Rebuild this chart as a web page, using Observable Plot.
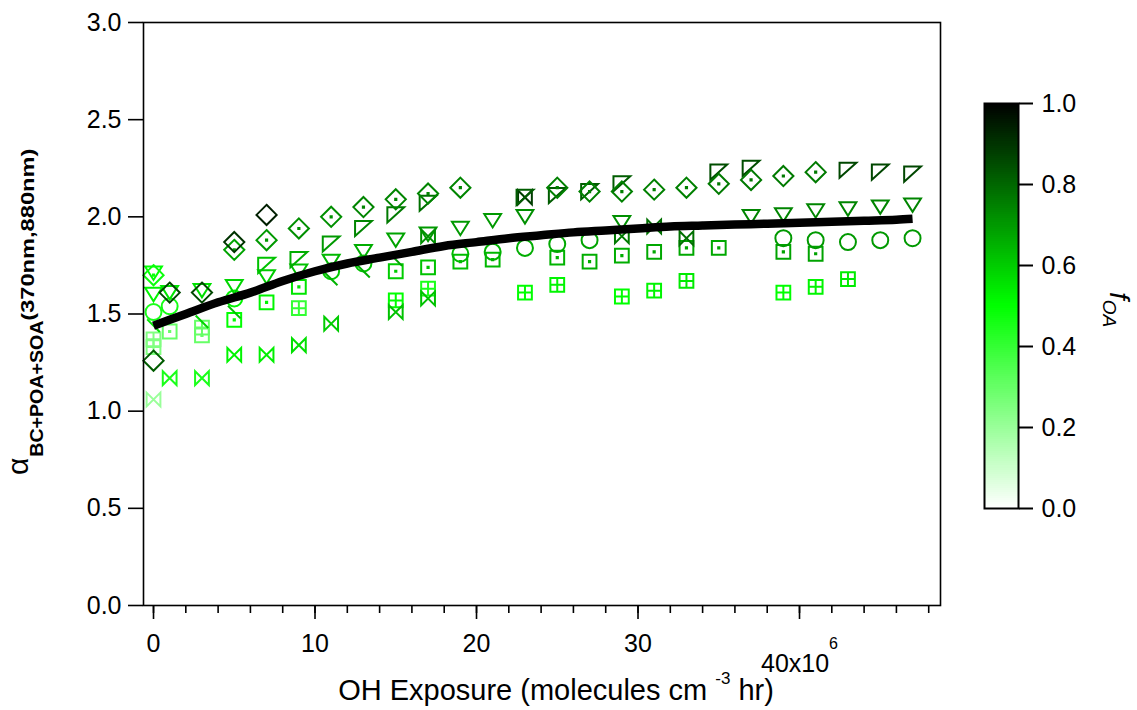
<!DOCTYPE html>
<html><head><meta charset="utf-8">
<script src="https://cdn.jsdelivr.net/npm/d3@7"></script>
<script src="https://cdn.jsdelivr.net/npm/@observablehq/plot@0.6"></script>
<style>
html,body{margin:0;padding:0;background:#fff;}
#wrap{position:relative;width:1137px;height:710px;overflow:hidden;background:#fff;}
#wrap svg{position:absolute;}
</style></head><body><div id="wrap"></div>
<script>
const FONT = "'Liberation Sans', Arial, Helvetica, sans-serif";

// ---- data (x in units of 1e6 molecules cm^-3 hr) ----
const plainDiamondX = [0, 1, 3, 5, 7];
const plainDiamondY = [1.26, 1.61, 1.61, 1.87, 2.01];
const plainDiamondF = [0.82, 0.86, 0.86, 0.9, 0.94];

const dotDiamondX = [0, 5, 7, 9, 11, 13, 15, 17, 19, 25, 27, 29, 31, 33, 35, 37, 39, 41];
const dotDiamondY = [1.70, 1.83, 1.88, 1.94, 2.00, 2.05, 2.09, 2.12, 2.15, 2.15, 2.13, 2.13, 2.14, 2.15, 2.17, 2.19, 2.21, 2.23];
const dotDiamondF = [0.48, 0.68, 0.7, 0.72, 0.72, 0.74, 0.74, 0.74, 0.74, 0.75, 0.75, 0.75, 0.75, 0.75, 0.76, 0.76, 0.76, 0.76];

const flagX = [7, 9, 11, 13, 15, 17, 23, 25, 27, 29, 35, 37, 43, 45, 47];
const flagY = [1.75, 1.78, 1.86, 1.94, 2.01, 2.07, 2.10, 2.11, 2.13, 2.17, 2.23, 2.25, 2.24, 2.23, 2.22];
const flagF = [0.62, 0.66, 0.7, 0.74, 0.76, 0.78, 0.82, 0.82, 0.82, 0.82, 0.85, 0.85, 0.86, 0.86, 0.86];

const triangleX = [0, 0, 1, 3, 5, 7, 9, 11, 13, 15, 17, 19, 21, 23, 29, 37, 39, 41, 43, 45, 47];
const triangleY = [1.71, 1.60, 1.61, 1.62, 1.64, 1.69, 1.72, 1.77, 1.82, 1.88, 1.91, 1.94, 1.98, 2.00, 1.97, 2.00, 2.01, 2.03, 2.04, 2.05, 2.06];
const triangleF = [0.5, 0.52, 0.55, 0.56, 0.58, 0.6, 0.62, 0.64, 0.66, 0.68, 0.7, 0.7, 0.7, 0.72, 0.72, 0.74, 0.74, 0.74, 0.74, 0.74, 0.74];

const circleX = [0, 1, 5, 11, 13, 19, 21, 23, 25, 27, 39, 41, 43, 45, 47];
const circleY = [1.51, 1.54, 1.58, 1.72, 1.76, 1.81, 1.82, 1.84, 1.86, 1.88, 1.89, 1.88, 1.87, 1.88, 1.89];
const circleF = [0.45, 0.46, 0.52, 0.6, 0.62, 0.64, 0.65, 0.66, 0.67, 0.68, 0.7, 0.7, 0.7, 0.7, 0.7];

const dotSquareX = [1, 3, 5, 7, 9, 15, 17, 19, 21, 25, 27, 29, 31, 33, 35, 39, 41];
const dotSquareY = [1.41, 1.39, 1.47, 1.56, 1.64, 1.72, 1.74, 1.77, 1.78, 1.79, 1.77, 1.80, 1.82, 1.84, 1.84, 1.82, 1.81];
const dotSquareF = [0.3, 0.3, 0.5, 0.52, 0.55, 0.6, 0.62, 0.63, 0.64, 0.65, 0.66, 0.66, 0.67, 0.67, 0.67, 0.68, 0.68];

const gridSquareX = [0, 0, 3, 9, 15, 17, 23, 25, 29, 31, 33, 39, 41, 43];
const gridSquareY = [1.37, 1.33, 1.43, 1.53, 1.57, 1.63, 1.61, 1.65, 1.59, 1.62, 1.67, 1.61, 1.64, 1.68];
const gridSquareF = [0.25, 0.25, 0.3, 0.4, 0.5, 0.45, 0.5, 0.52, 0.5, 0.52, 0.54, 0.5, 0.52, 0.54];

const bowtieX = [0, 1, 3, 5, 7, 9, 11, 15, 17];
const bowtieY = [1.06, 1.17, 1.17, 1.29, 1.29, 1.34, 1.45, 1.51, 1.58];
const bowtieF = [0.2, 0.45, 0.45, 0.52, 0.53, 0.56, 0.6, 0.62, 0.62];

const darkBowtieX = [17, 23, 29, 31, 33];
const darkBowtieY = [1.90, 2.10, 1.90, 1.95, 1.89];
const darkBowtieF = [0.72, 0.88, 0.76, 0.78, 0.78];

const slashX = [0, 3, 5, 11, 13, 15];
const slashY = [1.44, 1.46, 1.51, 1.68, 1.72, 1.78];
const slashF = [0.55, 0.58, 0.62, 0.65, 0.66, 0.68];

const fitX = [0, 2, 4, 6, 8, 10, 12, 14, 16, 18, 20, 22, 24, 26, 28, 30, 32, 34, 36, 38, 40, 42, 44, 46, 47];
const fitY = [1.44, 1.50, 1.56, 1.61, 1.67, 1.72, 1.76, 1.79, 1.82, 1.85, 1.87, 1.89, 1.905, 1.92, 1.93, 1.94, 1.95, 1.955, 1.96, 1.965, 1.97, 1.975, 1.98, 1.985, 1.99];

const yTicks = [0, 0.5, 1, 1.5, 2, 2.5, 3];
const xMajorTicks = [0, 10, 20, 30, 40];
const xMinorTicks = [0, 2, 4, 6, 8, 10, 12, 14, 16, 18, 20, 22, 24, 26, 28, 30, 32, 34, 36, 38, 40, 42, 44, 46, 48];
const cbTicks = [0, 0.2, 0.4, 0.6, 0.8, 1.0];

// ---- colour scale (f_OA) ----
const colorScale = {type: "linear", domain: [0, 0.5, 1], range: ["#ffffff", "#00ff00", "#000000"]};

// ---- custom marker symbols ----
const sym = fn => ({draw(c, size) { fn(c, Math.sqrt(size / Math.PI)); }});
function diamondPath(c, r) { const h = r * 1.2; c.moveTo(0, -h); c.lineTo(h, 0); c.lineTo(0, h); c.lineTo(-h, 0); c.closePath(); }
function centerDot(c) { c.moveTo(-0.6, -0.6); c.rect(-0.6, -0.6, 1.2, 1.2); }
const SYM = {
  plainDiamond: sym((c, r) => diamondPath(c, r)),
  dotDiamond: sym((c, r) => { diamondPath(c, r); centerDot(c); }),
  flag: sym((c, r) => { c.moveTo(-r, -0.9 * r); c.lineTo(r, -0.9 * r); c.lineTo(-r, 0.9 * r); c.closePath(); }),
  triangle: sym((c, r) => { c.moveTo(-r, -0.8 * r); c.lineTo(r, -0.8 * r); c.lineTo(0, 0.8 * r); c.closePath(); }),
  circle: sym((c, r) => { const h = 0.95 * r; c.moveTo(h, 0); c.arc(0, 0, h, 0, 2 * Math.PI); }),
  dotSquare: sym((c, r) => { const h = 0.82 * r; c.moveTo(-h, -h); c.rect(-h, -h, 2 * h, 2 * h); centerDot(c); }),
  gridSquare: sym((c, r) => { const h = 0.82 * r; c.moveTo(-h, -h); c.rect(-h, -h, 2 * h, 2 * h); c.moveTo(0, -h); c.lineTo(0, h); c.moveTo(-h, 0); c.lineTo(h, 0); }),
  bowtie: sym((c, r) => { const h = 0.82 * r; c.moveTo(-h, -h); c.lineTo(h, h); c.lineTo(h, -h); c.lineTo(-h, h); c.closePath(); }),
  slash: sym((c, r) => { const h = 0.75 * r; c.moveTo(-h, -h); c.lineTo(h, h); })
};

const series = [
  [gridSquareX, gridSquareY, gridSquareF, SYM.gridSquare],
  [bowtieX, bowtieY, bowtieF, SYM.bowtie],
  [dotSquareX, dotSquareY, dotSquareF, SYM.dotSquare],
  [circleX, circleY, circleF, SYM.circle],
  [slashX, slashY, slashF, SYM.slash],
  [triangleX, triangleY, triangleF, SYM.triangle],
  [darkBowtieX, darkBowtieY, darkBowtieF, SYM.bowtie],
  [flagX, flagY, flagF, SYM.flag],
  [dotDiamondX, dotDiamondY, dotDiamondF, SYM.dotDiamond],
  [plainDiamondX, plainDiamondY, plainDiamondF, SYM.plainDiamond]
];
const dotMarks = series.map(([xs, ys, fs, s]) =>
  Plot.dot(xs.map((x, i) => ({x, y: ys[i], f: fs[i]})), {x: "x", y: "y", stroke: "f", fill: "none", symbol: s, r: 8.4, strokeWidth: 2})
);
const fit = fitX.map((x, i) => ({x, y: fitY[i]}));

const chart = Plot.plot({
  width: 1137, height: 710,
  marginLeft: 143, marginRight: 197, marginTop: 22, marginBottom: 105,
  style: {fontFamily: FONT, fontSize: "25px", color: "black", background: "transparent", overflow: "visible"},
  x: {domain: [-0.62, 48.73]},
  y: {domain: [0, 3]},
  color: colorScale,
  marks: [
    Plot.axisY({ticks: yTicks, tickFormat: d3.format(".1f"), tickSize: 15, tickPadding: 7, strokeWidth: 1.6, label: null}),
    Plot.axisX({ticks: xMinorTicks, tickSize: 8, tickFormat: () => "", strokeWidth: 1.6, label: null}),
    Plot.axisX({ticks: xMajorTicks, tickSize: 14, tickPadding: 15, tickFormat: d => d === 40 ? "40x10" : String(d), strokeWidth: 1.6, label: null}),
    ...dotMarks,
    Plot.line(fit, {x: "x", y: "y", stroke: "black", strokeWidth: 8.5, strokeLinecap: "butt", curve: "monotone-x"}),
    Plot.frame({stroke: "black", strokeWidth: 1.6})
  ]
});
const wrap = document.getElementById("wrap");
chart.style.left = "0px"; chart.style.top = "0px";
wrap.appendChild(chart);

const svg = d3.select(chart);
svg.selectAll("text").filter(function() { return this.textContent === "40x10"; }).each(function() {
  const t = d3.select(this); t.text(null);
  t.append("tspan").attr("dy", 20).text("40x10");
  t.append("tspan").attr("dy", -23).attr("font-size", 16).text("6");
});

// y-axis title
const yt = svg.append("text").attr("transform", "translate(28,475) rotate(-90)")
  .attr("text-anchor", "start").attr("font-family", FONT).attr("fill", "black");
yt.append("tspan").attr("font-size", 30).text("α");
yt.append("tspan").attr("font-size", 18).attr("font-weight", "bold").attr("dy", 15).attr("dx", 1)
  .attr("textLength", 136).attr("lengthAdjust", "spacingAndGlyphs").text("BC+POA+SOA");
yt.append("tspan").attr("font-size", 18).attr("font-weight", "bold").attr("dy", -9.5)
  .attr("textLength", 172).attr("lengthAdjust", "spacingAndGlyphs").text("(370nm,880nm)");

// x-axis title
const xt = svg.append("text").attr("x", 556).attr("y", 700).attr("text-anchor", "middle")
  .attr("font-family", FONT).attr("font-size", 29).attr("fill", "black");
xt.append("tspan").text("OH Exposure (molecules cm ");
xt.append("tspan").attr("font-size", 17).attr("dy", -16).text("-3");
xt.append("tspan").attr("dy", 16).text(" hr)");

// ---- colour bar ----
const cbSteps = d3.range(0, 1, 0.005);
const cb = Plot.plot({
  width: 177, height: 450, marginLeft: 24, marginRight: 119, marginTop: 23, marginBottom: 22,
  style: {fontFamily: FONT, fontSize: "25px", color: "black", background: "transparent", overflow: "visible"},
  x: {domain: [0, 1], axis: null},
  y: {domain: [0, 1]},
  color: colorScale,
  marks: [
    Plot.rect(cbSteps, {x1: () => 0, x2: () => 1, y1: d => d, y2: d => Math.min(1, d + 0.01), fill: d => d + 0.0025, shapeRendering: "crispEdges"}),
    Plot.frame({stroke: "black", strokeWidth: 2}),
    Plot.axisY({anchor: "right", ticks: cbTicks, tickFormat: d3.format(".1f"), tickSize: 14, tickPadding: 9, strokeWidth: 2, label: null})
  ]
});
cb.style.left = "960px"; cb.style.top = "80px";
wrap.appendChild(cb);
const fl = d3.select(cb).append("text").attr("transform", "translate(150,212) rotate(90)")
  .attr("text-anchor", "start").attr("font-family", FONT).attr("font-style", "italic").attr("fill", "black");
fl.append("tspan").attr("font-size", 28).text("f");
fl.append("tspan").attr("font-size", 19).attr("dy", 7).text("OA");
</script></body></html>
